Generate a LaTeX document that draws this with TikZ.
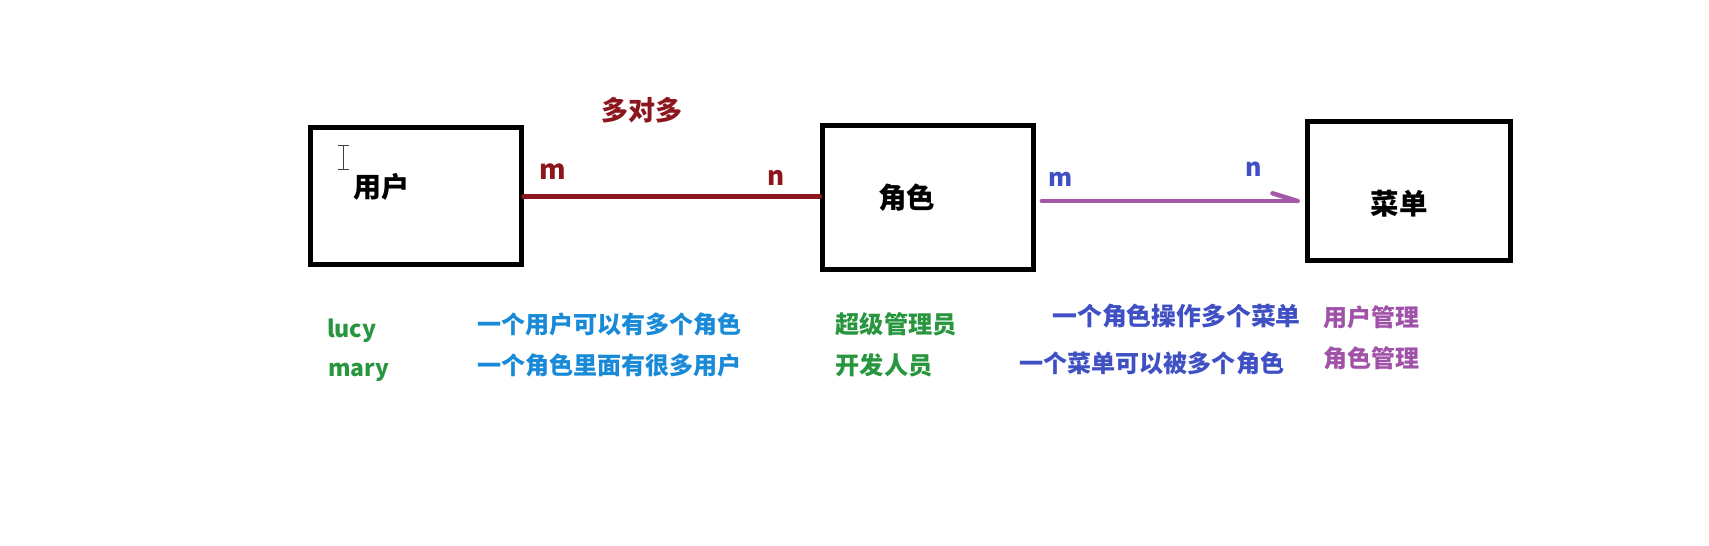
\documentclass[tikz,border=0pt]{standalone}
\usepackage{fontspec}
\usepackage{graphicx}
\setmainfont{Noto Sans CJK SC}
\usetikzlibrary{calc}
\definecolor{darkred}{RGB}{140,22,30}
\definecolor{grn}{RGB}{40,150,62}
\definecolor{skyblue}{RGB}{24,138,215}
\definecolor{indigo}{RGB}{62,80,195}
\definecolor{purp}{RGB}{165,88,168}
\definecolor{purptxt}{RGB}{160,82,168}
\newcommand{\fs}[1]{\fontsize{#1}{#1}\selectfont\bfseries}
\newcommand{\fw}[3]{\resizebox{#1pt}{!}{\fontsize{#2}{#2}\selectfont\bfseries #3}}
\tikzset{
  entity/.style={draw=black, line width=5pt, inner sep=0pt, fill=white},
  txt/.style={inner sep=0pt, outer sep=0pt},
  ltxt/.style={inner sep=0pt, outer sep=0pt, anchor=west},
}
\begin{document}
\begin{tikzpicture}[x=1pt,y=-1pt]
\useasboundingbox[fill=white] (0,0) rectangle (1709,546);
% entity boxes
\node[entity, minimum width=210.5pt, minimum height=136.5pt] (u) at (415.75,195.75) {};
\node[entity, minimum width=211pt, minimum height=143.4pt] (r) at (928,197.5) {};
\node[entity, minimum width=203.3pt, minimum height=138.4pt] (m) at (1409.15,191) {};
\node[txt] (ut) at (381,187) {\fs{28}用户};
\node[txt] (rt) at (906.5,198) {\fs{28.5}角色};
\node[txt] (mt) at (1399,204) {\fs{28.5}菜单};
% text cursor
\coordinate (cur) at (343.7,145.7);
\draw[line width=1pt, black!75] (cur) -- ++(0,23.3)
  (cur) ++(-5.5,0) -- ++(11,0)
  (cur) ++(-5.5,23.3) -- ++(11,0);
% red many-to-many connector
\coordinate (ua) at ($(u.east)+(0,0.75)$);
\draw[darkred, line width=4.5pt, line cap=round] (ua) -- (ua -| r.west);
\node[txt, darkred] (mm) at (641.7,110.3) {\fs{27}多对多};
\node[txt, darkred] (m1) at (553,171.3) {\fs{27}m};
\node[txt, darkred] (n1) at (775.7,177.5) {\fs{26}n};
% purple connector with half arrow
\coordinate (ra) at ($(r.east)+(5.8,3.5)$);
\coordinate (tip) at ($(ra -| m.west)+(-7.5,0)$);
\draw[purp, line width=4.5pt, line cap=round] (ra) -- (tip);
\draw[purp, line width=4.5pt, line cap=round] (tip) -- ++(-25,-7.7);
\node[txt, indigo] (m2) at (1061,179.5) {\fs{24.5}m};
\node[txt, indigo] (n2) at (1254,169.5) {\fs{25}n};
% lower texts
\node[ltxt, grn] (t1) at (327,330.5) {\fw{49.5}{24.5}{lucy}};
\node[ltxt, grn] (t2) at (328.3,372.5) {\fw{61}{24.5}{mary}};
\node[ltxt, skyblue] (t3) at (477,324.2) {\fw{264}{26.4}{一个用户可以有多个角色}};
\node[ltxt, skyblue] (t4) at (477,365) {\fw{264.5}{26.4}{一个角色里面有很多用户}};
\node[ltxt, grn] (t5) at (835.7,324.7) {\fw{121}{24.2}{超级管理员}};
\node[ltxt, grn] (t6) at (835.7,365.5) {\fw{96.8}{24.2}{开发人员}};
\node[ltxt, indigo] (t7) at (1052.3,315.8) {\fw{248.5}{24.9}{一个角色操作多个菜单}};
\node[ltxt, indigo] (t8) at (1019.6,363.3) {\fw{264.5}{26.5}{一个菜单可以被多个角色}};
\node[ltxt, purptxt] (t9) at (1323,317.5) {\fw{96}{24}{用户管理}};
\node[ltxt, purptxt] (t10) at (1323,358.7) {\fw{96}{24}{角色管理}};
\end{tikzpicture}
\end{document}
